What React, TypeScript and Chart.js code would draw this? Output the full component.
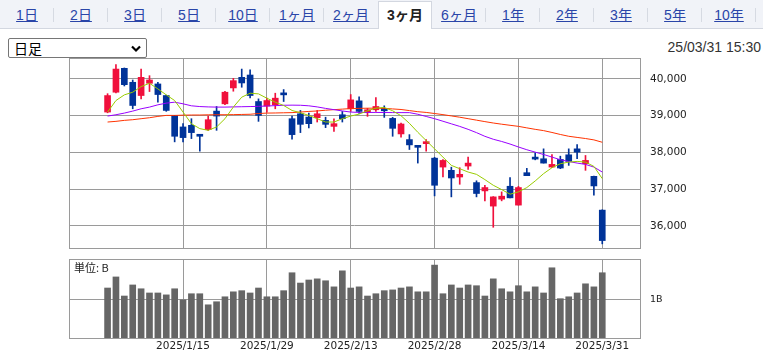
import React, { useEffect, useRef } from "react";
import { Chart, registerables } from "chart.js";
Chart.register(...registerables);

const dates = [
  "2024/12/26", "2024/12/27", "2024/12/30", "2025/1/6", "2025/1/7", "2025/1/8", "2025/1/9", "2025/1/10", "2025/1/14", "2025/1/15",
  "2025/1/16", "2025/1/17", "2025/1/20", "2025/1/21", "2025/1/22", "2025/1/23", "2025/1/24", "2025/1/27", "2025/1/28", "2025/1/29",
  "2025/1/30", "2025/1/31", "2025/2/3", "2025/2/4", "2025/2/5", "2025/2/6", "2025/2/7", "2025/2/10", "2025/2/12", "2025/2/13",
  "2025/2/14", "2025/2/17", "2025/2/18", "2025/2/19", "2025/2/20", "2025/2/21", "2025/2/25", "2025/2/26", "2025/2/27", "2025/2/28",
  "2025/3/3", "2025/3/4", "2025/3/5", "2025/3/6", "2025/3/7", "2025/3/10", "2025/3/11", "2025/3/12", "2025/3/13", "2025/3/14",
  "2025/3/17", "2025/3/18", "2025/3/19", "2025/3/21", "2025/3/24", "2025/3/25", "2025/3/26", "2025/3/27", "2025/3/28", "2025/3/31",
];

const opens = [
  39100, 39640, 40290, 39910, 39550, 39883, 39865, 39550, 39009, 38695,
  38739, 38460, 38622, 39126, 39324, 39757, 40045, 40108, 39387, 39262,
  39297, 39580, 38919, 39054, 38964, 38946, 38874, 38711, 39027, 39189,
  39405, 39090, 39162, 39198, 38928, 38505, 38351, 38150, 38240, 37846,
  37603, 37514, 37333, 37631, 37181, 36955, 36541, 36730, 37081, 36568,
  37450, 37873, 37829, 37603, 37811, 37937, 38099, 37694, 37351, 36432,
];
const highs = [
  39600, 40390, 40300, 39973, 40270, 40090, 39910, 39560, 39009, 38784,
  38919, 38486, 38990, 39252, 39667, 40018, 40270, 40252, 39459, 39480,
  39613, 39712, 38990, 39144, 39072, 39144, 38960, 38919, 39117, 39576,
  39514, 39200, 39495, 39270, 38955, 38800, 38486, 38155, 38351, 37870,
  37810, 37600, 37586, 37873, 37230, 37108, 36800, 36928, 37316, 37080,
  37568, 37992, 38099, 37946, 37900, 38099, 38216, 37919, 37360, 36440,
];
const lows = [
  39080, 39620, 39810, 39189, 39459, 39658, 39369, 39120, 38289, 38289,
  38378, 38036, 38600, 38603, 39300, 39667, 39775, 39486, 38847, 39100,
  39189, 39387, 38360, 38541, 38668, 38829, 38676, 38576, 38829, 39117,
  39063, 38982, 39117, 38955, 38441, 38414, 38081, 37712, 38036, 36819,
  37333, 36792, 37135, 37541, 36792, 36684, 35965, 36684, 36766, 36568,
  37369, 37800, 37711, 37590, 37560, 37649, 37829, 37514, 36838, 35514,
];
const closes = [
  39549, 40270, 39846, 39279, 40045, 39973, 39577, 39144, 38441, 38405,
  38541, 38441, 38892, 38991, 39640, 39955, 39892, 39550, 39009, 39414,
  39478, 39568, 38486, 38766, 38784, 39054, 38766, 38784, 38919, 39432,
  39117, 39162, 39252, 39135, 38657, 38775, 38207, 38140, 38260, 37108,
  37784, 37306, 37405, 37711, 36884, 37046, 36792, 36811, 36766, 37046,
  37369, 37820, 37711, 37676, 37577, 37757, 38009, 37784, 37090, 35603,
];

const ma5 = [
  39100, 39414, 39568, 39640, 39792, 39883, 39730, 39568, 39414, 39100,
  38784, 38649, 38603, 38694, 38919, 39235, 39505, 39613, 39595, 39477,
  39369, 39279, 39144, 39081, 39009, 38919, 38829, 38829, 38919, 38991,
  39045, 39135, 39207, 39225, 39135, 39000, 38793, 38550, 38324, 38099,
  37873, 37649, 37559, 37468, 37405, 37262, 37108, 36991, 36865, 36928,
  37045, 37225, 37424, 37586, 37694, 37738, 37757, 37738, 37622, 37288,
];
const ma25 = [
  38991, 39027, 39072, 39126, 39189, 39235, 39297, 39343, 39369, 39324,
  39270, 39250, 39240, 39235, 39235, 39240, 39245, 39250, 39255, 39265,
  39275, 39285, 39288, 39285, 39270, 39240, 39200, 39165, 39130, 39100,
  39090, 39090, 39090, 39088, 39086, 39085, 39085, 39040, 38980, 38920,
  38850, 38780, 38710, 38630, 38540, 38440, 38360, 38300, 38230, 38150,
  38075, 38010, 37946, 37875, 37802, 37755, 37712, 37676, 37603, 37468,
];
const ma75 = [
  38829, 38847, 38874, 38892, 38919, 38946, 38982, 39009, 39009, 39015,
  39020, 39020, 39025, 39027, 39027, 39030, 39035, 39040, 39060, 39072,
  39075, 39080, 39085, 39100, 39117, 39130, 39150, 39165, 39180, 39195,
  39200, 39205, 39205, 39200, 39185, 39170, 39140, 39110, 39090, 39060,
  39030, 38995, 38960, 38920, 38880, 38840, 38802, 38770, 38740, 38711,
  38670, 38630, 38595, 38545, 38490, 38441, 38410, 38380, 38343, 38278,
];

// volume in billions of shares
const volumes = [
  1.31, 1.60, 1.10, 1.39, 1.29, 1.18, 1.18, 1.13, 1.29, 1.00,
  1.16, 1.16, 0.87, 0.95, 1.08, 1.21, 1.24, 1.18, 1.31, 1.08,
  1.08, 1.24, 1.71, 1.44, 1.52, 1.55, 1.50, 1.34, 1.76, 1.31,
  1.34, 1.10, 1.16, 1.24, 1.26, 1.31, 1.34, 1.21, 1.21, 1.91,
  1.16, 1.39, 1.31, 1.39, 1.37, 1.10, 1.55, 1.29, 1.21, 1.37,
  1.21, 1.34, 1.18, 1.84, 1.03, 1.08, 1.18, 1.42, 1.34, 1.71,
];

const xTickLabels = ["2025/1/15", "2025/1/29", "2025/2/13", "2025/2/28", "2025/3/14", "2025/3/31"];
const priceTicks = [36000, 37000, 38000, 39000, 40000];
const volumeTicks = [1];
const tabs = ["1日", "2日", "3日", "5日", "10日", "1ヶ月", "2ヶ月", "3ヶ月", "6ヶ月", "1年", "2年", "3年", "5年", "10年"];
const activeTab = "3ヶ月";
const timestamp = "25/03/31 15:30";
const selectLabel = "日足";
const volumeUnit = "単位: B";

const RED = "#f0103c";
const BLUE = "#003399";
const GRID = "#9a9a9a";
const TEXT = "#222";
const AXIS_FONT = { family: "'DejaVu Sans', sans-serif", size: 10.5 };

const frame = {
  id: "frame",
  afterDraw(chart: any) {
    const { ctx, chartArea: a } = chart;
    ctx.save();
    ctx.strokeStyle = GRID;
    ctx.lineWidth = 1;
    ctx.strokeRect(
      Math.round(a.left) + 0.5,
      Math.round(a.top) + 0.5,
      Math.round(a.right) - Math.round(a.left),
      Math.round(a.bottom) - Math.round(a.top)
    );
    ctx.restore();
  },
};

function xScale(showLabels: boolean, height: number) {
  const tickIdx = xTickLabels.map((l) => dates.indexOf(l));
  return {
    type: "linear",
    min: -4.6,
    max: 63.5,
    offset: false,
    afterBuildTicks: (s: any) => {
      s.ticks = tickIdx.map((v) => ({ value: v }));
    },
    afterFit: (s: any) => {
      s.height = height;
      s.paddingLeft = 0;
      s.paddingRight = 0;
    },
    ticks: {
      display: showLabels,
      autoSkip: false,
      maxRotation: 0,
      padding: 2,
      color: TEXT,
      font: AXIS_FONT,
      callback: (v: any) => dates[Math.round(v)] ?? "",
    },
    grid: { color: GRID, lineWidth: 1, drawTicks: false, offset: false },
    border: { display: false },
  };
}

export default function App() {
  const priceRef = useRef<HTMLCanvasElement>(null);
  const volRef = useRef<HTMLCanvasElement>(null);

  useEffect(() => {
    const idx = dates.map((_, i) => i);
    const colors = idx.map((i) => (closes[i] >= opens[i] ? RED : BLUE));

    const price = new Chart(priceRef.current as HTMLCanvasElement, {
      type: "bar",
      data: {
        datasets: [
          {
            type: "line",
            data: idx.map((i) => ({ x: i, y: ma5[i] })),
            borderColor: "#99cc00",
            borderWidth: 1,
            pointRadius: 0,
            tension: 0,
            order: 1,
          },
          {
            type: "line",
            data: idx.map((i) => ({ x: i, y: ma25[i] })),
            borderColor: "#9900ff",
            borderWidth: 1,
            pointRadius: 0,
            tension: 0,
            order: 1,
          },
          {
            type: "line",
            data: idx.map((i) => ({ x: i, y: ma75[i] })),
            borderColor: "#ff3300",
            borderWidth: 1,
            pointRadius: 0,
            tension: 0,
            order: 1,
          },
          {
            type: "bar",
            data: idx.map((i) => ({ x: i, y: [opens[i], closes[i]] })),
            backgroundColor: colors,
            barThickness: 6,
            minBarLength: 2,
            grouped: false,
            order: 2,
          },
          {
            type: "bar",
            data: idx.map((i) => ({ x: i, y: [lows[i], highs[i]] })),
            backgroundColor: colors,
            barThickness: 1,
            grouped: false,
            order: 3,
          },
        ],
      } as any,
      options: {
        animation: false,
        responsive: false,
        maintainAspectRatio: false,
        events: [],
        layout: { padding: { left: 69, right: 0, top: 10, bottom: 8 } },
        plugins: { legend: { display: false }, tooltip: { enabled: false } },
        scales: {
          x: xScale(false, 0),
          y: {
            type: "linear",
            position: "right",
            min: 35401,
            max: 40571,
            afterBuildTicks: (s: any) => {
              s.ticks = priceTicks.map((v) => ({ value: v }));
            },
            afterFit: (s: any) => {
              s.width = 123;
              s.paddingTop = 0;
              s.paddingBottom = 0;
            },
            ticks: {
              padding: 10,
              color: TEXT,
              font: AXIS_FONT,
              callback: (v: any) => Number(v).toLocaleString("en-US"),
            },
            grid: { color: GRID, lineWidth: 1, drawTicks: false },
            border: { display: false },
          },
        } as any,
      },
      plugins: [frame],
    });

    const vol = new Chart(volRef.current as HTMLCanvasElement, {
      type: "bar",
      data: {
        datasets: [
          {
            data: idx.map((i) => ({ x: i, y: volumes[i] })),
            backgroundColor: "#666666",
            barThickness: 6,
            grouped: false,
          },
        ],
      } as any,
      options: {
        animation: false,
        responsive: false,
        maintainAspectRatio: false,
        events: [],
        layout: { padding: { left: 69, right: 0, top: 3, bottom: 0 } },
        plugins: { legend: { display: false }, tooltip: { enabled: false } },
        scales: {
          x: xScale(true, 14),
          y: {
            type: "linear",
            position: "right",
            min: 0,
            max: 2.07,
            afterBuildTicks: (s: any) => {
              s.ticks = volumeTicks.map((v) => ({ value: v }));
            },
            afterFit: (s: any) => {
              s.width = 123;
              s.paddingTop = 0;
              s.paddingBottom = 0;
            },
            ticks: {
              padding: 10,
              color: TEXT,
              font: { family: "'DejaVu Sans', sans-serif", size: 9.5 },
              callback: (v: any) => `${v}B`,
            },
            grid: { color: GRID, lineWidth: 1, drawTicks: false },
            border: { display: false },
          },
        } as any,
      },
      plugins: [frame],
    });

    return () => {
      price.destroy();
      vol.destroy();
    };
  }, []);

  const activeIndex = tabs.indexOf(activeTab);

  return (
    <div
      style={{
        position: "absolute",
        left: 0,
        top: 0,
        width: 763,
        height: 352,
        background: "#fff",
        overflow: "hidden",
        fontFamily: "'Liberation Sans', 'Noto Sans CJK JP', sans-serif",
      }}
    >
      <div
        style={{
          position: "absolute",
          left: 0,
          top: 0,
          width: 763,
          height: 29,
          background: "#f1f3f8",
          borderBottom: "1px solid #d3d7e0",
          boxSizing: "border-box",
        }}
      />
      {tabs.map((t, i) => {
        const active = i === activeIndex;
        const showSep = !active && i !== activeIndex - 1;
        return (
          <div
            key={t}
            style={{
              position: "absolute",
              left: 54 * i,
              top: active ? 1 : 0,
              width: 54,
              height: 28,
              boxSizing: "border-box",
              background: active ? "#fff" : "transparent",
              border: active ? "1px solid #d3d7e0" : "none",
              borderBottom: "none",
              display: "flex",
              alignItems: "center",
              justifyContent: "center",
              fontSize: 14,
              lineHeight: "16px",
              color: active ? "#222" : "#2a45a8",
              fontWeight: active ? 700 : 400,
              textDecoration: active ? "none" : "underline",
            }}
          >
            <span style={{ marginTop: active ? -1 : 1 }}>{t}</span>
            {showSep && (
              <div
                style={{
                  position: "absolute",
                  right: 0,
                  top: 8,
                  width: 1,
                  height: 14,
                  background: "#d6dae2",
                }}
              />
            )}
          </div>
        );
      })}
      <div
        style={{
          position: "absolute",
          left: 8,
          top: 38,
          width: 139,
          height: 20,
          boxSizing: "border-box",
          border: "1px solid #767676",
          borderRadius: 2,
          background: "#fff",
          color: "#000",
        }}
      >
        <span
          style={{
            position: "absolute",
            left: 5,
            top: 0,
            fontSize: 14,
            lineHeight: "18px",
            fontFamily: "'Noto Sans CJK JP', sans-serif",
          }}
        >
          {selectLabel}
        </span>
        <svg
          width="10"
          height="8"
          viewBox="0 0 10 8"
          style={{ position: "absolute", right: 5, top: 6 }}
        >
          <polyline points="1,1.5 5,5.5 9,1.5" fill="none" stroke="#000" strokeWidth="2.2" />
        </svg>
      </div>
      <div
        style={{
          position: "absolute",
          right: 2,
          top: 38,
          fontSize: 14,
          lineHeight: "18px",
          color: "#333",
        }}
      >
        {timestamp}
      </div>
      <canvas
        ref={priceRef}
        width={763}
        height={208}
        style={{ position: "absolute", left: 0, top: 48, width: 763, height: 208 }}
      />
      <canvas
        ref={volRef}
        width={763}
        height={96}
        style={{ position: "absolute", left: 0, top: 256, width: 763, height: 96 }}
      />
      <div
        style={{
          position: "absolute",
          left: 74,
          top: 260,
          fontSize: 11,
          lineHeight: "14px",
          color: "#222",
          fontFamily: "'Noto Sans CJK JP', sans-serif",
        }}
      >
        {volumeUnit}
      </div>
    </div>
  );
}
